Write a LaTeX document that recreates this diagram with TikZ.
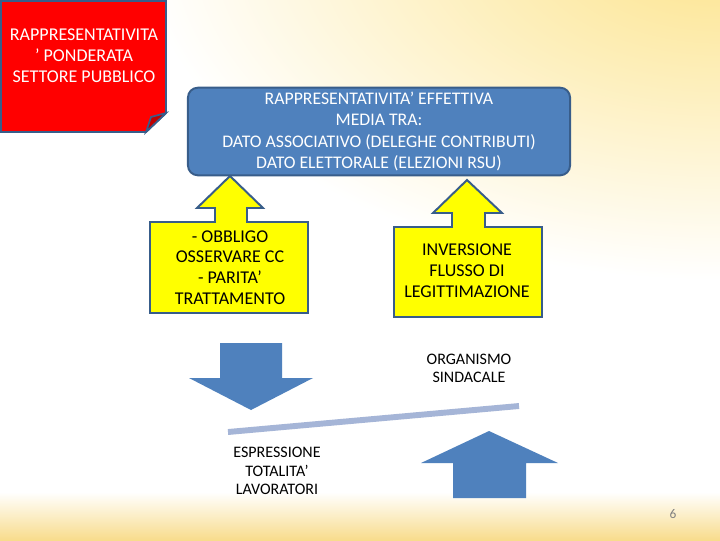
\documentclass[tikz,border=0pt]{standalone}
\usepackage{fontspec}
\setmainfont{Carlito}
\usepackage{xcolor}
\usetikzlibrary{positioning, calc}
\definecolor{ppblue}{HTML}{4F81BD}
\definecolor{ppborder}{HTML}{385D8A}
\definecolor{ppred}{HTML}{FF0000}
\definecolor{ppfold}{HTML}{C00000}
\definecolor{ppyellow}{HTML}{FFFF00}
\definecolor{ppline}{RGB}{165,181,215}
\definecolor{ppglow}{HTML}{FCE38A}
\definecolor{ppband}{HTML}{F8DC8C}
\tikzset{
  cardtext/.style={
    align=center, text=white, inner sep=0pt,
    font=\fontsize{12.8}{15}\selectfont
  },
  bluebox/.style={
    draw=ppborder, line width=1.4pt, fill=ppblue, rounded corners=7pt,
    align=center, text=white, font=\fontsize{12.6}{15}\selectfont
  },
  callout/.style={
    draw=ppborder, line width=1.4pt, fill=ppyellow, line join=miter
  },
  callouttext/.style={
    align=center, inner sep=0pt, font=\fontsize{12.8}{14.8}\selectfont
  },
  blockarrow/.style={fill=ppblue},
  plaintext/.style={
    align=center, inner sep=0pt, font=\fontsize{11.4}{13.2}\selectfont
  },
}
\begin{document}
\begin{tikzpicture}[x=0.025cm, y=-0.025cm]
  \useasboundingbox (0,0) rectangle (720,540);

  % background glow
  \fill[white] (0,0) rectangle (720,540);
  \begin{scope}
    \clip (0,0) rectangle (720,540);
    \shade[inner color=ppglow, outer color=white] (720,-60) ellipse (580 and 340);
    \shade[top color=white, bottom color=ppband] (0,492) rectangle (720,540);
  \end{scope}

  % red note with folded corner
  \fill[ppred, draw=ppborder, line width=1.4pt]
    (1,1) -- (166,1) -- (166,113) -- (146,132) -- (1,132) -- cycle;
  \fill[ppfold, draw=ppborder, line width=1.2pt]
    (146,132) -- (151,117) -- (166,113) -- cycle;
  \node[cardtext] (ponderata) at (84,56)
    {RAPPRESENTATIVITA\\ ’ PONDERATA\\ SETTORE PUBBLICO};

  % effective representativeness
  \node[bluebox, minimum width=9.55cm, minimum height=2.175cm] (effettiva)
    at (379,131.5)
    {RAPPRESENTATIVITA’ EFFETTIVA\\ MEDIA TRA:\\
     DATO ASSOCIATIVO (DELEGHE CONTRIBUTI)\\
     DATO ELETTORALE (ELEZIONI RSU)};

  % yellow callouts
  \draw[callout] (150,222) -- (215,222) -- (215,208) -- (197,208) -- (230,176)
    -- (263,208) -- (247,208) -- (247,222) -- (308,222) -- (308,313)
    -- (150,313) -- cycle;
  \node[callouttext] (obbligo) at (230,267.5)
    {- OBBLIGO\\ OSSERVARE CC\\ - PARITA’\\ TRATTAMENTO};

  \draw[callout] (394,227) -- (452,227) -- (452,213) -- (433,213) -- (467,180)
    -- (502,213) -- (485,213) -- (485,227) -- (542,227) -- (542,317)
    -- (394,317) -- cycle;
  \node[callouttext] (inversione) at (467,271)
    {INVERSIONE\\ FLUSSO DI\\ LEGITTIMAZIONE};

  % down and up block arrows
  \fill[blockarrow] (220,343) -- (282,343) -- (282,378) -- (313,378)
    -- (251,410) -- (189,378) -- (220,378) -- cycle;
  \fill[blockarrow] (453,498) -- (526,498) -- (526,463) -- (558,463)
    -- (489,431) -- (421,463) -- (453,463) -- cycle;

  % balance line
  \coordinate (lineleft) at (228,432);
  \coordinate (lineright) at (519,406);
  \draw[ppline, line width=4.2pt] (lineleft) -- (lineright);

  % labels
  \node[plaintext] (organismo) at (469,368.5) {ORGANISMO\\ SINDACALE};
  \node[plaintext] (espressione) at (277,471)
    {ESPRESSIONE\\ TOTALITA’\\ LAVORATORI};
  \node[font=\fontsize{9.5}{11}\selectfont, text=gray, inner sep=0pt]
    (pagina) at (673,514) {6};
\end{tikzpicture}
\end{document}
